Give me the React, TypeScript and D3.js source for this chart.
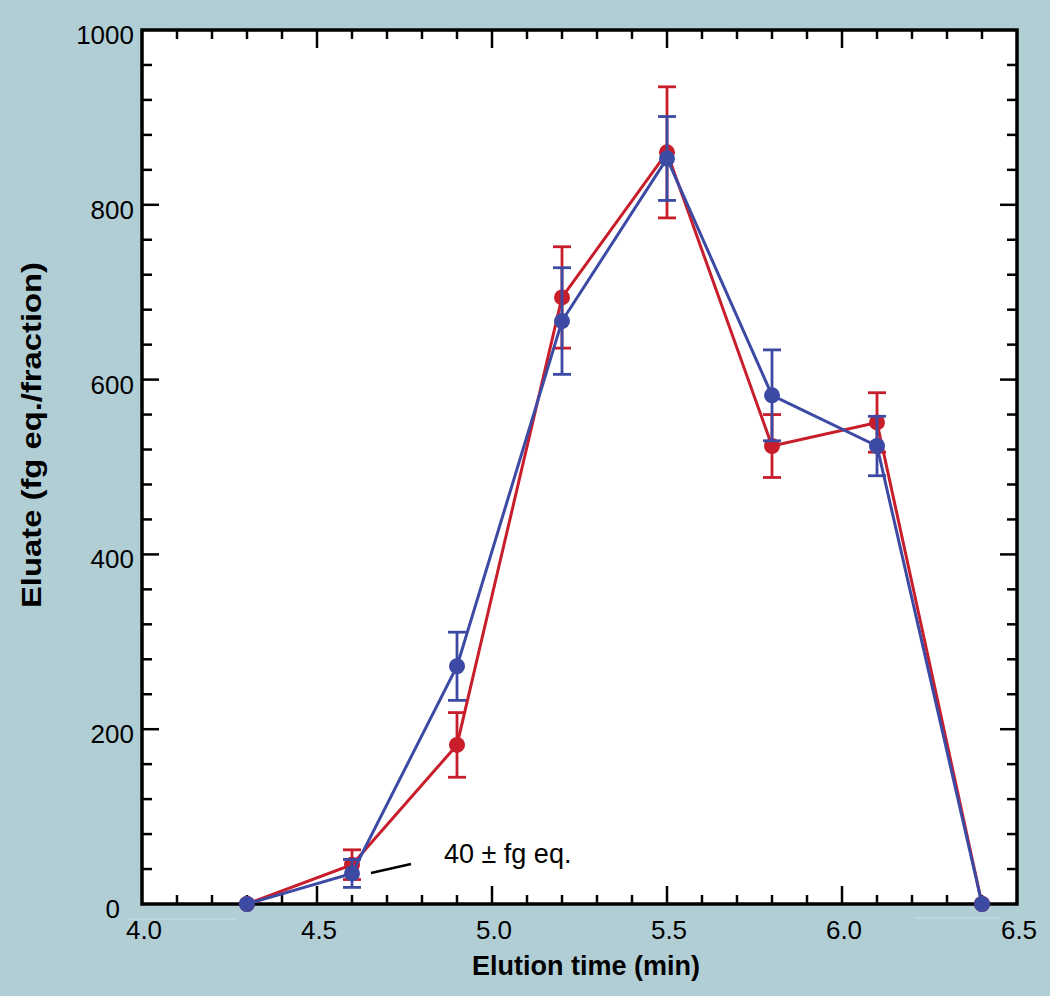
import React, { useEffect } from "react";
import * as d3 from "d3";

const times = [4.3, 4.6, 4.9, 5.2, 5.5, 5.8, 6.1, 6.4];
const redValues = [0, 45, 182, 694, 860, 524, 551, 0];
const redErrors = [0, 17, 37, 58, 75, 36, 34, 0];
const blueValues = [0, 35, 272, 667, 853, 582, 524, 0];
const blueErrors = [0, 16, 39, 61, 48, 52, 34, 0];
const xTickLabels = [4.0, 4.5, 5.0, 5.5, 6.0, 6.5];
const yTickLabels = [0, 200, 400, 600, 800, 1000];
const annotationText = "40 \u00b1 fg eq.";
const annotationAt = { x: 4.6, y: 40 };

const W = 1050;
const H = 996;
const L = 142, R = 1017, T = 30, B = 904;
const FONT = "'Liberation Sans', Arial, Helvetica, sans-serif";
const RED = "#c81e2c";
const BLUE = "#3d4aa4";
const BG = "#b1ced5";

export default function App() {
  useEffect(() => {
    document.body.style.margin = "0";
  }, []);

  const x = d3.scaleLinear().domain([4.0, 6.5]).range([L, R]);
  const y = d3.scaleLinear().domain([0, 1000]).range([B, T]);

  const xMinor = d3.range(0, 26).map((i) => 4.0 + i * 0.1);
  const yMinor = d3.range(0, 26).map((i) => i * 40);

  const line = d3
    .line<number>()
    .x((_, i) => x(times[i]))
    .y((d) => y(d));

  const series = [
    { vals: redValues, errs: redErrors, color: RED },
    { vals: blueValues, errs: blueErrors, color: BLUE },
  ];

  const isMajorX = (v: number) => Math.abs(v * 2 - Math.round(v * 2)) < 1e-6;
  const isMajorY = (v: number) => v % 200 === 0;

  return (
    <svg width={W} height={H} style={{ position: "absolute", left: 0, top: 0, display: "block" }}>
      <rect x={0} y={0} width={W} height={H} fill={BG} />
      {/* faint artifact lines */}
      <line x1={127} x2={237} y1={919} y2={919} stroke="#c9dfe4" strokeWidth={1} />
      <line x1={914} x2={1000} y1={918} y2={918} stroke="#c9dfe4" strokeWidth={1} />
      <rect x={L} y={T} width={R - L} height={B - T} fill="#ffffff" />

      {/* ticks */}
      {xMinor.map((v, i) => {
        const len = isMajorX(v) ? 18 : 9;
        if (i === 0 || i === xMinor.length - 1) return null;
        return (
          <g key={"xt" + i}>
            <line x1={x(v)} x2={x(v)} y1={B} y2={B - len} stroke="#000" strokeWidth={2.5} />
            <line x1={x(v)} x2={x(v)} y1={T} y2={T + len} stroke="#000" strokeWidth={2.5} />
          </g>
        );
      })}
      {yMinor.map((v, i) => {
        const len = isMajorY(v) ? 17 : 10;
        if (i === 0 || i === yMinor.length - 1) return null;
        return (
          <g key={"yt" + i}>
            <line x1={L} x2={L + len} y1={y(v)} y2={y(v)} stroke="#000" strokeWidth={2.5} />
            <line x1={R} x2={R - len} y1={y(v)} y2={y(v)} stroke="#000" strokeWidth={2.5} />
          </g>
        );
      })}
      <rect x={L} y={T} width={R - L} height={B - T} fill="none" stroke="#000" strokeWidth={3.5} />

      {/* tick labels */}
      {xTickLabels.map((v) => (
        <text key={"xl" + v} x={x(v) + 2} y={939} textAnchor="middle" fontFamily={FONT} fontSize={26} fill="#000">
          {v.toFixed(1)}
        </text>
      ))}
      {yTickLabels.map((v) => (
        <text
          key={"yl" + v}
          x={v === 0 ? 120 : 134}
          y={y(v) + 14}
          textAnchor="end"
          fontFamily={FONT}
          fontSize={26}
          fill="#000"
        >
          {v}
        </text>
      ))}

      {/* series */}
      {series.map((s, si) => (
        <g key={"s" + si}>
          <path d={line(s.vals) || ""} fill="none" stroke={s.color} strokeWidth={3} />
          {s.vals.map((v, i) =>
            s.errs[i] > 0 ? (
              <g key={"e" + i} stroke={s.color} strokeWidth={2.8}>
                <line x1={x(times[i])} x2={x(times[i])} y1={y(v + s.errs[i])} y2={y(v - s.errs[i])} />
                <line x1={x(times[i]) - 9} x2={x(times[i]) + 9} y1={y(v + s.errs[i])} y2={y(v + s.errs[i])} />
                <line x1={x(times[i]) - 9} x2={x(times[i]) + 9} y1={y(v - s.errs[i])} y2={y(v - s.errs[i])} />
              </g>
            ) : null
          )}
          {s.vals.map((v, i) => (
            <circle key={"c" + i} cx={x(times[i])} cy={y(v)} r={8} fill={s.color} />
          ))}
        </g>
      ))}

      {/* annotation */}
      <line
        x1={x(annotationAt.x) + 19}
        y1={y(annotationAt.y) + 4}
        x2={x(annotationAt.x) + 59}
        y2={y(annotationAt.y) - 5}
        stroke="#000"
        strokeWidth={2.5}
      />
      <text x={444} y={863} fontFamily={FONT} fontSize={27} fill="#000">
        {annotationText}
      </text>

      {/* axis titles */}
      <text
        x={586}
        y={975}
        textAnchor="middle"
        fontFamily={FONT}
        fontWeight="bold"
        fontSize={27}
        fill="#000"
        textLength={228}
        lengthAdjust="spacingAndGlyphs"
      >
        Elution time (min)
      </text>
      <text
        transform={`translate(41,435) rotate(-90)`}
        textAnchor="middle"
        fontFamily={FONT}
        fontWeight="bold"
        fontSize={27}
        fill="#000"
        textLength={346}
        lengthAdjust="spacingAndGlyphs"
      >
        Eluate (fg eq./fraction)
      </text>
    </svg>
  );
}
